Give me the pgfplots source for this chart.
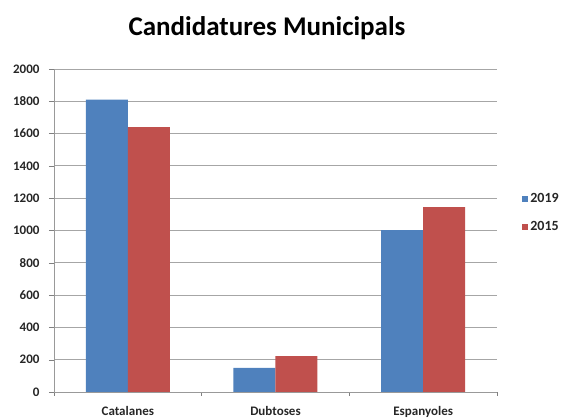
\documentclass[border=0pt]{standalone}
\usepackage{pgfplots}
\pgfplotsset{compat=1.18}
\usepackage{fontspec}
\setmainfont{Carlito}
\definecolor{xlblue}{HTML}{4F81BD}
\definecolor{xlred}{HTML}{C0504D}
\begin{document}
\begin{tikzpicture}[x=1pt,y=1pt]
\path[use as bounding box] (0,0) rectangle (566,418);
\node[font=\bfseries\fontsize{27}{30}\selectfont] at (267,390) {Candidatures Municipals};
\begin{axis}[
  at={(54pt,26pt)}, anchor=south west,
  scale only axis, width=443pt, height=323pt,
  ybar=0pt, bar width=42pt,
  xmin=-0.5, xmax=2.5, ymin=0, ymax=2000,
  xtick={0,1,2}, xticklabels={Catalanes,Dubtoses,Espanyoles},
  minor xtick={-0.5,0.5,1.5,2.5},
  x tick style={draw=none}, minor x tick style={draw=gray, thick},
  xtick align=outside, minor tick length=4pt,
  ytick={0,200,...,2000},
  ytick align=outside, major tick length=5pt,
  y tick style={draw=gray},
  ymajorgrids, grid style={gray!70, thick},
  axis x line*=bottom, axis y line*=left,
  axis line style={gray!80, thick},
  x axis line style={-}, y axis line style={-},
  tick label style={font=\bfseries\fontsize{13}{14}\selectfont, text=black!85},
  yticklabel style={xshift=-6pt},
  xticklabel style={yshift=-6pt},
  /pgf/number format/assume math mode=true,
  /pgf/number format/set thousands separator={},
  legend style={draw=none, fill=none, at={(1.05,0.555)}, anchor=west, font=\bfseries\fontsize{14}{16}\selectfont, row sep=13pt, text=black!85},
  legend image code/.code={\fill[#1] (0pt,-3pt) rectangle (6pt,3pt);},
  enlarge x limits=false,
]
\addplot[fill=xlblue, draw=none] coordinates {(0,1810) (1,150) (2,1003)};
\addplot[fill=xlred, draw=none] coordinates {(0,1640) (1,222) (2,1145)};
\legend{2019,2015}
\end{axis}
\end{tikzpicture}
\end{document}
